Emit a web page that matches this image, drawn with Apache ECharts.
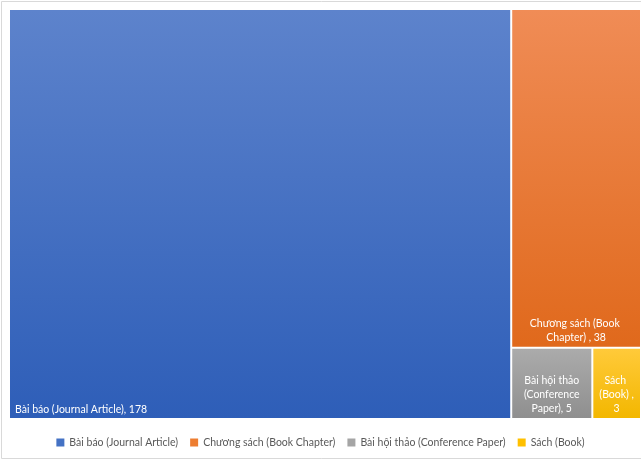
<!DOCTYPE html>
<html>
<head>
<meta charset="utf-8">
<script src="https://cdn.jsdelivr.net/npm/echarts@6/dist/echarts.min.js"></script>
<style>html,body{margin:0;padding:0;background:#fff}#c{width:641px;height:461px}</style>
</head>
<body>
<div id="c"></div>
<script>
const categories = ['Bài báo (Journal Article)', 'Chương sách (Book Chapter)', 'Bài hội thảo (Conference Paper)', 'Sách (Book)'];
const values = [178, 38, 5, 3];
const labelSeparators = [', ', ' , ', ', ', ' ,\n'];
const colorsTop = ['#5d83cc', '#f08c56', '#ababab', '#ffca3a'];
const colorsBottom = ['#2e5eb8', '#e0691c', '#8f8f8f', '#f3b700'];
const legendColors = ['#4472c4', '#ed7d31', '#a5a5a5', '#ffc000'];
const labelSidePad = [0, 8, 3, 0];
const labelPositions = ['insideBottomLeft', 'insideBottom', 'insideBottom', 'insideBottom'];

const FONT = 'Lato';
const chart = echarts.init(document.getElementById('c'), null, {renderer: 'canvas'});
const grad = i => new echarts.graphic.LinearGradient(0, 0, 0, 1, [
  {offset: 0, color: colorsTop[i]}, {offset: 1, color: colorsBottom[i]}
]);
const data = categories.map((n, i) => ({
  name: n,
  value: values[i],
  itemStyle: {color: grad(i), borderColor: '#fff', borderWidth: 1},
  label: {
    position: labelPositions[i],
    overflow: 'break',
    align: i === 0 ? 'left' : 'center',
    padding: i === 0 ? [0, 0, 1, 5] : [0, labelSidePad[i], 2, labelSidePad[i]],
    formatter: p => p.name + labelSeparators[i] + p.value
  }
}));
const dummy = categories.map((n, i) => ({
  type: 'bar', name: n, data: [], itemStyle: {color: legendColors[i]}
}));
chart.setOption({
  animation: false,
  graphic: [{type: 'rect', shape: {x: 1.5, y: 1.5, width: 645, height: 457}, style: {fill: 'none', stroke: '#d9d9d9', lineWidth: 1}, silent: true}],
  xAxis: {show: false}, yAxis: {show: false},
  grid: {left: 0, top: 0, width: 1, height: 1, show: false},
  legend: {
    bottom: 8, left: 'center', icon: 'rect', itemWidth: 8, itemHeight: 8, itemGap: 12,
    textStyle: {color: '#595959', fontSize: 10.5, fontFamily: FONT},
    data: categories
  },
  series: [{
    type: 'treemap',
    left: 9, top: 9, width: 632, height: 410,
    roam: false, nodeClick: false, breadcrumb: {show: false},
    squareRatio: 1,
    label: {show: true, color: '#fff', fontSize: 10.5, fontFamily: FONT, lineHeight: 14},
    itemStyle: {gapWidth: 0},
    levels: [{itemStyle: {gapWidth: 0, borderWidth: 0}}],
    data: data
  }].concat(dummy)
});
</script>
</body>
</html>
